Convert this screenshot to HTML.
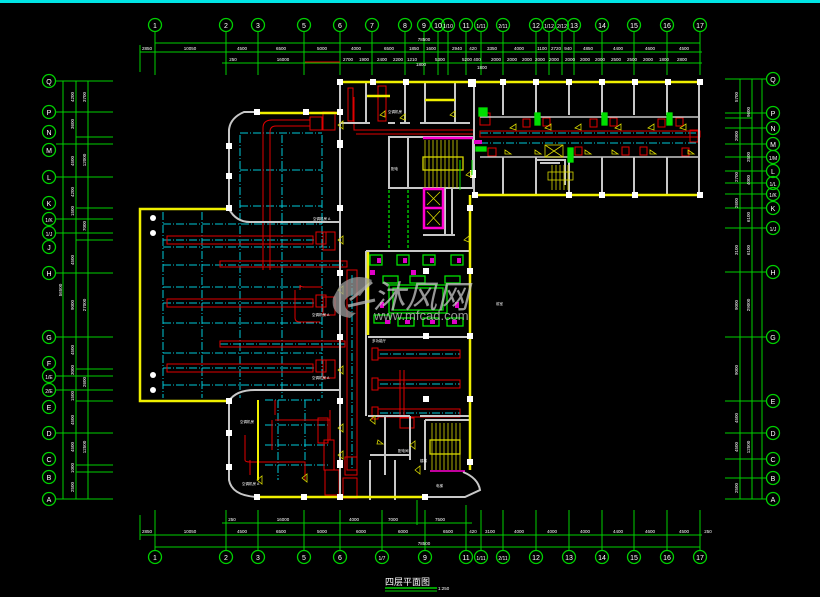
<!DOCTYPE html>
<html><head><meta charset="utf-8"><style>
html,body{margin:0;padding:0;background:#000;}
svg{display:block}
text{font-family:"Liberation Sans","Noto Sans CJK SC",sans-serif;}
</style></head><body>
<svg width="820" height="597" viewBox="0 0 820 597" xmlns="http://www.w3.org/2000/svg">
<rect width="820" height="597" fill="#000"/>
<rect width="820" height="3" fill="#00e5e5"/>

<!-- TOP AXES -->
<g stroke="#00d000" stroke-width="1" fill="none">
<line x1="155" y1="43" x2="700" y2="43"/>
<line x1="140" y1="52" x2="702" y2="52"/>
<line x1="222" y1="63" x2="702" y2="63"/>
<g id="topticks">
<line x1="155" y1="32" x2="155" y2="75"/><line x1="226" y1="32" x2="226" y2="75"/><line x1="258" y1="32" x2="258" y2="75"/><line x1="304" y1="32" x2="304" y2="75"/><line x1="340" y1="32" x2="340" y2="75"/><line x1="372" y1="32" x2="372" y2="75"/><line x1="405" y1="32" x2="405" y2="75"/><line x1="424" y1="32" x2="424" y2="75"/><line x1="438" y1="32" x2="438" y2="75"/><line x1="448" y1="32" x2="448" y2="75"/><line x1="466" y1="32" x2="466" y2="75"/><line x1="481" y1="32" x2="481" y2="75"/><line x1="503" y1="32" x2="503" y2="75"/><line x1="536" y1="32" x2="536" y2="75"/><line x1="549" y1="32" x2="549" y2="75"/><line x1="562" y1="32" x2="562" y2="75"/><line x1="574" y1="32" x2="574" y2="75"/><line x1="602" y1="32" x2="602" y2="75"/><line x1="634" y1="32" x2="634" y2="75"/><line x1="667" y1="32" x2="667" y2="75"/><line x1="700" y1="32" x2="700" y2="75"/><line x1="140" y1="45" x2="140" y2="72"/>
</g>
<g stroke-width="1.3">
<circle cx="155" cy="25" r="6.5"/><circle cx="226" cy="25" r="6.5"/><circle cx="258" cy="25" r="6.5"/><circle cx="304" cy="25" r="6.5"/><circle cx="340" cy="25" r="6.5"/><circle cx="372" cy="25" r="6.5"/><circle cx="405" cy="25" r="6.5"/><circle cx="424" cy="25" r="6.5"/><circle cx="438" cy="25" r="6.5"/><circle cx="448" cy="25" r="6.5"/><circle cx="466" cy="25" r="6.5"/><circle cx="481" cy="25" r="6.5"/><circle cx="503" cy="25" r="6.5"/><circle cx="536" cy="25" r="6.5"/><circle cx="549" cy="25" r="6.5"/><circle cx="562" cy="25" r="6.5"/><circle cx="574" cy="25" r="6.5"/><circle cx="602" cy="25" r="6.5"/><circle cx="634" cy="25" r="6.5"/><circle cx="667" cy="25" r="6.5"/><circle cx="700" cy="25" r="6.5"/>
</g>
<line x1="305" y1="62" x2="340" y2="62" stroke="#e00000"/>
<line x1="360" y1="82" x2="405" y2="82" stroke="#e00000"/>
</g>
<g fill="#fff" font-size="7" text-anchor="middle">
<text x="155" y="28">1</text><text x="226" y="28">2</text><text x="258" y="28">3</text><text x="304" y="28">5</text><text x="340" y="28">6</text><text x="372" y="28">7</text><text x="405" y="28">8</text><text x="424" y="28">9</text><text x="438" y="28">10</text><text x="448" y="28" font-size="5">1/10</text><text x="466" y="28">11</text><text x="481" y="28" font-size="5">1/11</text><text x="503" y="28" font-size="5">2/11</text><text x="536" y="28">12</text><text x="549" y="28" font-size="5">1/12</text><text x="562" y="28" font-size="5">2/12</text><text x="574" y="28">13</text><text x="602" y="28">14</text><text x="634" y="28">15</text><text x="667" y="28">16</text><text x="700" y="28">17</text>
</g>
<g fill="#fff" font-size="4.5" text-anchor="middle">
<text x="424" y="41">78500</text>
<text x="147" y="50">2850</text><text x="190" y="50">10050</text><text x="242" y="50">4500</text><text x="281" y="50">6500</text><text x="322" y="50">5000</text><text x="356" y="50">4000</text><text x="389" y="50">6500</text><text x="414" y="50">1850</text><text x="431" y="50">1600</text><text x="457" y="50">2940</text><text x="473" y="50">420</text><text x="492" y="50">3350</text><text x="519" y="50">4000</text><text x="542" y="50">1100</text><text x="556" y="50">2720</text><text x="568" y="50">940</text><text x="588" y="50">4850</text><text x="618" y="50">4400</text><text x="650" y="50">4600</text><text x="684" y="50">4500</text>
<text x="233" y="61">250</text><text x="283" y="61">16000</text><text x="348" y="61">2700</text><text x="364" y="61">1900</text><text x="382" y="61">2400</text><text x="398" y="61">2200</text><text x="412" y="61">1210</text><text x="440" y="61">5300</text><text x="467" y="61">5200</text><text x="477" y="61">400</text><text x="496" y="61">2000</text><text x="512" y="61">2000</text><text x="527" y="61">2000</text><text x="540" y="61">2000</text><text x="554" y="61">2000</text><text x="570" y="61">2000</text><text x="585" y="61">2000</text><text x="600" y="61">2000</text><text x="616" y="61">2500</text><text x="632" y="61">2500</text><text x="648" y="61">2000</text><text x="664" y="61">1800</text><text x="682" y="61">2800</text>
<text x="421" y="66">1800</text><text x="482" y="69">1800</text>
</g>

<!-- BOTTOM AXES -->
<g stroke="#00d000" stroke-width="1" fill="none">
<line x1="222" y1="523" x2="472" y2="523"/>
<line x1="140" y1="535" x2="702" y2="535"/>
<line x1="155" y1="547" x2="700" y2="547"/>
<line x1="155" y1="510" x2="155" y2="550"/><line x1="226" y1="510" x2="226" y2="550"/><line x1="258" y1="510" x2="258" y2="550"/><line x1="304" y1="510" x2="304" y2="550"/><line x1="340" y1="510" x2="340" y2="550"/><line x1="382" y1="510" x2="382" y2="550"/><line x1="425" y1="510" x2="425" y2="550"/><line x1="466" y1="505" x2="466" y2="550"/><line x1="481" y1="510" x2="481" y2="550"/><line x1="503" y1="510" x2="503" y2="550"/><line x1="536" y1="510" x2="536" y2="550"/><line x1="569" y1="510" x2="569" y2="550"/><line x1="602" y1="510" x2="602" y2="550"/><line x1="634" y1="510" x2="634" y2="550"/><line x1="667" y1="510" x2="667" y2="550"/><line x1="700" y1="510" x2="700" y2="550"/><line x1="140" y1="515" x2="140" y2="540"/><line x1="417" y1="500" x2="417" y2="525"/>
<g stroke-width="1.3">
<circle cx="155" cy="557" r="6.5"/><circle cx="226" cy="557" r="6.5"/><circle cx="258" cy="557" r="6.5"/><circle cx="304" cy="557" r="6.5"/><circle cx="340" cy="557" r="6.5"/><circle cx="382" cy="557" r="6.5"/><circle cx="425" cy="557" r="6.5"/><circle cx="466" cy="557" r="6.5"/><circle cx="481" cy="557" r="6.5"/><circle cx="503" cy="557" r="6.5"/><circle cx="536" cy="557" r="6.5"/><circle cx="569" cy="557" r="6.5"/><circle cx="602" cy="557" r="6.5"/><circle cx="634" cy="557" r="6.5"/><circle cx="667" cy="557" r="6.5"/><circle cx="700" cy="557" r="6.5"/>
</g>
<line x1="385" y1="588" x2="437" y2="588" stroke-width="1.5"/>
<line x1="385" y1="591" x2="437" y2="591"/>
</g>
<g fill="#fff" font-size="7" text-anchor="middle">
<text x="155" y="560">1</text><text x="226" y="560">2</text><text x="258" y="560">3</text><text x="304" y="560">5</text><text x="340" y="560">6</text><text x="382" y="560" font-size="5">1/7</text><text x="425" y="560">9</text><text x="466" y="560">11</text><text x="481" y="560" font-size="5">1/11</text><text x="503" y="560" font-size="5">2/11</text><text x="536" y="560">12</text><text x="569" y="560">13</text><text x="602" y="560">14</text><text x="634" y="560">15</text><text x="667" y="560">16</text><text x="700" y="560">17</text>
</g>
<g fill="#fff" font-size="4.5" text-anchor="middle">
<text x="232" y="521">250</text><text x="283" y="521">16000</text><text x="354" y="521">4000</text><text x="393" y="521">7000</text><text x="440" y="521">7500</text>
<text x="147" y="533">2850</text><text x="190" y="533">10050</text><text x="242" y="533">4500</text><text x="281" y="533">6500</text><text x="322" y="533">5000</text><text x="361" y="533">6000</text><text x="403" y="533">6000</text><text x="448" y="533">6500</text><text x="473" y="533">420</text><text x="490" y="533">3100</text><text x="519" y="533">4000</text><text x="552" y="533">4000</text><text x="585" y="533">4000</text><text x="618" y="533">4400</text><text x="650" y="533">4600</text><text x="684" y="533">4500</text><text x="708" y="533">250</text>
<text x="424" y="545">78500</text>
</g>
<text x="385" y="585" fill="#fff" font-size="9" font-family="Liberation Sans, Noto Sans CJK SC, sans-serif">四层平面图</text>
<text x="438" y="590" fill="#fff" font-size="4.5">1:250</text>

<!-- LEFT AXIS -->
<g stroke="#00d000" stroke-width="1" fill="none">
<line x1="63" y1="81" x2="63" y2="499"/><line x1="76" y1="81" x2="76" y2="499"/><line x1="88" y1="81" x2="88" y2="499"/>
<g id="lh">
<line x1="56" y1="81" x2="113" y2="81"/><line x1="56" y1="112" x2="113" y2="112"/><line x1="76" y1="137" x2="113" y2="137"/><line x1="56" y1="144" x2="113" y2="144"/><line x1="56" y1="177" x2="113" y2="177"/><line x1="76" y1="208" x2="113" y2="208"/><line x1="56" y1="219" x2="113" y2="219"/><line x1="56" y1="233" x2="113" y2="233"/><line x1="76" y1="240" x2="113" y2="240"/><line x1="56" y1="273" x2="113" y2="273"/><line x1="56" y1="337" x2="113" y2="337"/><line x1="76" y1="369" x2="113" y2="369"/><line x1="56" y1="376" x2="113" y2="376"/><line x1="56" y1="390" x2="113" y2="390"/><line x1="76" y1="401" x2="113" y2="401"/><line x1="56" y1="433" x2="113" y2="433"/><line x1="76" y1="465" x2="113" y2="465"/><line x1="76" y1="472" x2="113" y2="472"/><line x1="56" y1="499" x2="113" y2="499"/>
</g>
<g stroke-width="1.3">
<circle cx="49" cy="81" r="6.5"/><circle cx="49" cy="112" r="6.5"/><circle cx="49" cy="132" r="6.5"/><circle cx="49" cy="150" r="6.5"/><circle cx="49" cy="177" r="6.5"/><circle cx="49" cy="203" r="6.5"/><circle cx="49" cy="219" r="6.5"/><circle cx="49" cy="233" r="6.5"/><circle cx="49" cy="247" r="6.5"/><circle cx="49" cy="273" r="6.5"/><circle cx="49" cy="337" r="6.5"/><circle cx="49" cy="363" r="6.5"/><circle cx="49" cy="376" r="6.5"/><circle cx="49" cy="390" r="6.5"/><circle cx="49" cy="407" r="6.5"/><circle cx="49" cy="433" r="6.5"/><circle cx="49" cy="459" r="6.5"/><circle cx="49" cy="477" r="6.5"/><circle cx="49" cy="499" r="6.5"/>
</g>
</g>
<g fill="#fff" font-size="7" text-anchor="middle">
<text x="49" y="84">Q</text><text x="49" y="115">P</text><text x="49" y="135">N</text><text x="49" y="153">M</text><text x="49" y="180">L</text><text x="49" y="206">K</text><text x="49" y="222" font-size="5">1/K</text><text x="49" y="236" font-size="5">1/J</text><text x="49" y="250">J</text><text x="49" y="276">H</text><text x="49" y="340">G</text><text x="49" y="366">F</text><text x="49" y="379" font-size="5">1/E</text><text x="49" y="393" font-size="5">2/E</text><text x="49" y="410">E</text><text x="49" y="436">D</text><text x="49" y="462">C</text><text x="49" y="480">B</text><text x="49" y="502">A</text>
</g>
<g fill="#fff" font-size="4.5" text-anchor="middle">
<text transform="translate(74,97) rotate(-90)">4200</text><text transform="translate(86,97) rotate(-90)">3700</text><text transform="translate(74,124) rotate(-90)">3600</text><text transform="translate(74,161) rotate(-90)">4500</text><text transform="translate(86,160) rotate(-90)">12000</text><text transform="translate(74,192) rotate(-90)">4200</text><text transform="translate(74,211) rotate(-90)">1500</text><text transform="translate(86,226) rotate(-90)">7000</text><text transform="translate(62,290) rotate(-90)">56500</text><text transform="translate(74,260) rotate(-90)">4500</text><text transform="translate(74,305) rotate(-90)">9000</text><text transform="translate(86,305) rotate(-90)">27000</text><text transform="translate(74,350) rotate(-90)">4500</text><text transform="translate(74,370) rotate(-90)">3000</text><text transform="translate(86,382) rotate(-90)">2600</text><text transform="translate(74,396) rotate(-90)">1500</text><text transform="translate(74,420) rotate(-90)">4500</text><text transform="translate(74,447) rotate(-90)">4500</text><text transform="translate(86,447) rotate(-90)">12500</text><text transform="translate(74,468) rotate(-90)">1000</text><text transform="translate(74,487) rotate(-90)">2500</text>
</g>

<!-- RIGHT AXIS -->
<g stroke="#00d000" stroke-width="1" fill="none">
<line x1="740" y1="79" x2="740" y2="499"/><line x1="752" y1="79" x2="752" y2="499"/><line x1="762" y1="79" x2="762" y2="499"/>
<line x1="725" y1="79" x2="766" y2="79"/><line x1="725" y1="113" x2="766" y2="113"/><line x1="725" y1="118" x2="752" y2="118"/><line x1="725" y1="128" x2="766" y2="128"/><line x1="725" y1="144" x2="766" y2="144"/><line x1="725" y1="157" x2="766" y2="157"/><line x1="725" y1="171" x2="766" y2="171"/><line x1="725" y1="183" x2="766" y2="183"/><line x1="725" y1="194" x2="766" y2="194"/><line x1="725" y1="208" x2="766" y2="208"/><line x1="725" y1="228" x2="766" y2="228"/><line x1="725" y1="272" x2="766" y2="272"/><line x1="725" y1="337" x2="766" y2="337"/><line x1="725" y1="401" x2="766" y2="401"/><line x1="725" y1="433" x2="766" y2="433"/><line x1="725" y1="459" x2="766" y2="459"/><line x1="725" y1="478" x2="766" y2="478"/><line x1="725" y1="499" x2="766" y2="499"/>
<g stroke-width="1.3">
<circle cx="773" cy="79" r="6.5"/><circle cx="773" cy="113" r="6.5"/><circle cx="773" cy="128" r="6.5"/><circle cx="773" cy="144" r="6.5"/><circle cx="773" cy="157" r="6.5"/><circle cx="773" cy="171" r="6.5"/><circle cx="773" cy="183" r="6.5"/><circle cx="773" cy="194" r="6.5"/><circle cx="773" cy="208" r="6.5"/><circle cx="773" cy="228" r="6.5"/><circle cx="773" cy="272" r="6.5"/><circle cx="773" cy="337" r="6.5"/><circle cx="773" cy="401" r="6.5"/><circle cx="773" cy="433" r="6.5"/><circle cx="773" cy="459" r="6.5"/><circle cx="773" cy="478" r="6.5"/><circle cx="773" cy="499" r="6.5"/>
</g>
</g>
<g fill="#fff" font-size="7" text-anchor="middle">
<text x="773" y="82">Q</text><text x="773" y="116">P</text><text x="773" y="131">N</text><text x="773" y="147">M</text><text x="773" y="160" font-size="5">1/M</text><text x="773" y="174">L</text><text x="773" y="186" font-size="5">1/L</text><text x="773" y="197" font-size="5">1/K</text><text x="773" y="211">K</text><text x="773" y="231" font-size="5">1/J</text><text x="773" y="275">H</text><text x="773" y="340">G</text><text x="773" y="404">E</text><text x="773" y="436">D</text><text x="773" y="462">C</text><text x="773" y="481">B</text><text x="773" y="502">A</text>
</g>
<g fill="#fff" font-size="4.5" text-anchor="middle">
<text transform="translate(738,97) rotate(-90)">5700</text><text transform="translate(750,112) rotate(-90)">9600</text><text transform="translate(738,136) rotate(-90)">2000</text><text transform="translate(750,157) rotate(-90)">2500</text><text transform="translate(738,177) rotate(-90)">2700</text><text transform="translate(750,180) rotate(-90)">4000</text><text transform="translate(738,203) rotate(-90)">2600</text><text transform="translate(750,217) rotate(-90)">6100</text><text transform="translate(738,250) rotate(-90)">3100</text><text transform="translate(750,250) rotate(-90)">6100</text><text transform="translate(738,305) rotate(-90)">9000</text><text transform="translate(750,305) rotate(-90)">29000</text><text transform="translate(738,370) rotate(-90)">9000</text><text transform="translate(738,418) rotate(-90)">4500</text><text transform="translate(738,447) rotate(-90)">4500</text><text transform="translate(750,447) rotate(-90)">12500</text><text transform="translate(738,488) rotate(-90)">2500</text>
</g>

<!-- BUILDING: CYAN DASH-DOT GRID -->
<g stroke="#00c8d8" stroke-width="1" stroke-dasharray="8 2 1 2" fill="none">
<line x1="240" y1="133" x2="322" y2="133"/><line x1="240" y1="170" x2="322" y2="170"/><line x1="240" y1="206" x2="322" y2="206"/>
<line x1="163" y1="224" x2="322" y2="224"/><line x1="163" y1="247" x2="330" y2="247"/><line x1="163" y1="287" x2="322" y2="287"/><line x1="163" y1="323" x2="322" y2="323"/><line x1="163" y1="353" x2="322" y2="353"/><line x1="163" y1="385" x2="322" y2="385"/><line x1="163" y1="265" x2="345" y2="265"/><line x1="163" y1="303" x2="315" y2="303"/><line x1="220" y1="344" x2="345" y2="344"/><line x1="163" y1="368" x2="315" y2="368"/><line x1="163" y1="240" x2="315" y2="240"/>
<line x1="163" y1="212" x2="163" y2="398"/><line x1="202" y1="212" x2="202" y2="398"/><line x1="240" y1="135" x2="240" y2="398"/><line x1="282" y1="135" x2="282" y2="398"/><line x1="322" y1="135" x2="322" y2="398"/>
<line x1="265" y1="400" x2="320" y2="400"/><line x1="278" y1="400" x2="278" y2="480"/><line x1="305" y1="400" x2="305" y2="480"/><line x1="265" y1="425" x2="330" y2="425"/><line x1="265" y1="445" x2="330" y2="445"/><line x1="265" y1="465" x2="330" y2="465"/>
<line x1="352" y1="275" x2="352" y2="470"/>
<line x1="380" y1="354" x2="460" y2="354"/><line x1="380" y1="384" x2="460" y2="384"/><line x1="380" y1="413" x2="460" y2="413"/>
<line x1="480" y1="133" x2="700" y2="133"/><line x1="480" y1="143" x2="700" y2="143"/>
</g>

<!-- RED DUCTS -->
<g stroke="#e00000" stroke-width="1" fill="none">
<rect x="167" y="236" width="146" height="8"/><rect x="220" y="261" width="127" height="6"/><rect x="167" y="299" width="146" height="8"/><rect x="220" y="341" width="125" height="6"/><rect x="167" y="364" width="146" height="8"/>
<path d="M263 270 V128 Q263 120 272 120 H310 M270 270 V132 Q270 126 276 126 H310"/>
<rect x="310" y="117" width="12" height="13"/><rect x="316" y="232" width="10" height="12"/><rect x="316" y="295" width="10" height="12"/><rect x="316" y="360" width="10" height="12"/>
<rect x="323" y="112" width="12" height="18"/><rect x="323" y="232" width="12" height="18"/><rect x="323" y="297" width="12" height="18"/><rect x="323" y="360" width="12" height="18"/>
<path d="M300 290 V285 Q300 287 305 287 H322 M295 290 V318 Q295 322 300 322 H320"/>
<rect x="347" y="270" width="10" height="200"/><rect x="345" y="457" width="12" height="18"/>
<path d="M275 400 V415 M275 420 H330 M272 420 V450 M330 410 V440"/>
<rect x="318" y="418" width="10" height="25"/><rect x="324" y="440" width="10" height="30"/>
<path d="M245 435 V460 Q245 462 250 462 H305 V480 M250 460 V475"/>
<rect x="325" y="470" width="14" height="25"/><rect x="343" y="478" width="14" height="20"/>
<rect x="378" y="350" width="82" height="8"/><rect x="378" y="380" width="82" height="8"/><rect x="378" y="409" width="82" height="8"/>
<rect x="372" y="348" width="6" height="12"/><rect x="372" y="378" width="6" height="12"/><rect x="372" y="407" width="6" height="12"/>
<path d="M400 370 V415 M404 370 V415"/><rect x="400" y="418" width="14" height="10"/>
<rect x="348" y="88" width="5" height="33"/><rect x="378" y="86" width="8" height="35"/>
<path d="M354 97 V130 H475 M356 134 H475"/>
<rect x="480" y="131" width="220" height="6"/>
<rect x="480" y="113" width="10" height="12"/><rect x="488" y="148" width="8" height="8"/>
<rect x="523" y="119" width="7" height="8"/><rect x="543" y="118" width="7" height="8"/><rect x="590" y="119" width="7" height="8"/><rect x="610" y="118" width="7" height="8"/><rect x="658" y="119" width="7" height="8"/><rect x="676" y="118" width="7" height="8"/><rect x="575" y="147" width="7" height="8"/><rect x="622" y="147" width="7" height="8"/><rect x="640" y="147" width="7" height="8"/><rect x="690" y="130" width="8" height="12"/><rect x="682" y="148" width="7" height="8"/>
</g>

<!-- WALLS GREY -->
<g stroke="#c8c8c8" stroke-width="2" fill="none">
<path d="M258 112 H244 Q230 118 229 130 V209"/>
<path d="M229 209 Q236 222 250 222 H340"/>
<path d="M229 401 Q236 390 255 390 H340"/>
<path d="M229 401 V480 Q232 496 258 497"/>
<path d="M340 83 V500"/>
<path d="M340 123 H370 M388 123 H395 M400 123 H410 M420 123 H470"/>
<path d="M366 83 V123 M405 83 V123 M425 83 V123 M455 83 V123"/>
<rect x="389" y="137" width="84" height="51"/>
<path d="M408 137 V188"/>
<path d="M445 188 V235 M452 188 V235 M423 235 H455"/>
<path d="M366 251 H470"/>
<path d="M368 337 H470 M368 416 H410 M420 416 H470"/>
<path d="M366 251 V416"/>
<path d="M385 416 V475 M410 416 V460 M370 455 H410 M370 460 V500 M395 460 V500"/>
<path d="M425 420 H470 M425 420 V470"/>
<path d="M463 472 Q478 478 480 490 L465 497 H425"/>
<path d="M474 83 V195 M474 195 H700"/>
<path d="M503 83 V115 M536 83 V115 M569 83 V115 M602 83 V115 M634 83 V115 M667 83 V115 M699 83 V195"/>
<path d="M503 157 V195 M536 157 V195 M569 157 V195 M602 157 V195 M634 157 V195 M667 157 V195"/>
<path d="M480 117 H700 M480 157 H700" stroke-width="1.5"/>
<path d="M535 160 H565 V185 M540 163 H560"/>
</g>

<!-- WALLS YELLOW -->
<g stroke="#f0f000" stroke-width="2.5" fill="none">
<path d="M227 209 H140 V401 H227"/>
<path d="M258 113 H340"/>
<path d="M340 82 H700 M474 195 H700"/>
<path d="M470 195 V470"/>
<path d="M258 497 H425"/>
<path d="M368 252 V335"/>
<path d="M258 400 V480" stroke-width="2"/>
<path d="M367 96 H390 M425 100 H455"/>
</g>

<!-- COLUMNS -->
<g fill="#fff">
<rect x="254" y="109" width="6" height="6"/><rect x="303" y="109" width="6" height="6"/><rect x="337" y="109" width="6" height="6"/>
<rect x="226" y="143" width="6" height="6"/><rect x="226" y="173" width="6" height="6"/><rect x="226" y="205" width="6" height="6"/>
<rect x="337" y="140" width="6" height="8"/><rect x="337" y="205" width="6" height="6"/><rect x="337" y="270" width="6" height="6"/><rect x="337" y="334" width="6" height="6"/><rect x="337" y="398" width="6" height="6"/><rect x="337" y="460" width="6" height="8"/>
<rect x="226" y="398" width="6" height="6"/><rect x="226" y="430" width="6" height="6"/><rect x="226" y="464" width="6" height="6"/>
<rect x="254" y="494" width="6" height="6"/><rect x="301" y="494" width="6" height="6"/><rect x="337" y="494" width="6" height="6"/><rect x="422" y="494" width="6" height="6"/>
<rect x="337" y="79" width="6" height="6"/><rect x="370" y="79" width="6" height="6"/><rect x="403" y="79" width="6" height="6"/><rect x="468" y="79" width="8" height="8"/><rect x="500" y="79" width="6" height="6"/><rect x="533" y="79" width="6" height="6"/><rect x="566" y="79" width="6" height="6"/><rect x="599" y="79" width="6" height="6"/><rect x="632" y="79" width="6" height="6"/><rect x="665" y="79" width="6" height="6"/><rect x="697" y="79" width="6" height="6"/>
<rect x="472" y="192" width="6" height="6"/><rect x="566" y="192" width="6" height="6"/><rect x="599" y="192" width="6" height="6"/><rect x="632" y="192" width="6" height="6"/><rect x="697" y="192" width="6" height="6"/>
<rect x="470" y="170" width="6" height="8"/><rect x="467" y="205" width="6" height="6"/><rect x="467" y="268" width="6" height="6"/><rect x="467" y="333" width="6" height="6"/><rect x="467" y="396" width="6" height="6"/><rect x="467" y="459" width="6" height="6"/>
<rect x="423" y="333" width="6" height="6"/><rect x="423" y="396" width="6" height="6"/><rect x="423" y="268" width="6" height="6"/>
<circle cx="153" cy="218" r="3"/><circle cx="153" cy="233" r="3"/><circle cx="153" cy="375" r="3"/><circle cx="153" cy="390" r="3"/>
</g>

<!-- STAIRS / ELEVATORS -->
<g stroke="#d8d800" stroke-width="0.8" fill="none">
<path d="M425 140 V188 M429 140 V188 M433 140 V188 M437 140 V188 M441 140 V188 M445 140 V188 M449 140 V188 M453 140 V188 M457 140 V188"/>
<rect x="423" y="157" width="40" height="13" stroke-width="1.3"/>
<path d="M432 423 V470 M436 423 V470 M440 423 V470 M444 423 V470 M448 423 V470 M452 423 V470 M456 423 V470 M460 423 V470"/>
<rect x="430" y="440" width="30" height="14" stroke-width="1.3"/>
<path d="M560 165 V190 M564 165 V190 M568 165 V190 M556 165 V190 M552 165 V190"/>
<rect x="548" y="172" width="25" height="8"/>
<rect x="545" y="145" width="18" height="12"/><path d="M545 145 L563 157 M563 145 L545 157"/>
</g>
<g stroke="#ff00d0" stroke-width="2.5" fill="none">
<rect x="424" y="189" width="19" height="39"/><line x1="424" y1="208" x2="443" y2="208"/>
<line x1="423" y1="138" x2="473" y2="138"/>
<line x1="430" y1="471" x2="465" y2="471" stroke-width="1.5"/>
</g>
<g stroke="#d8d800" stroke-width="0.8"><path d="M427 192 L440 205 M440 192 L427 205 M427 211 L440 225 M440 211 L427 225"/></g>

<!-- GREEN ATRIUM -->
<g stroke="#00e000" stroke-width="1.3" fill="none">
<rect x="370" y="255" width="12" height="10"/><rect x="397" y="255" width="12" height="10"/><rect x="423" y="255" width="12" height="10"/><rect x="451" y="255" width="12" height="10"/>
<rect x="383" y="276" width="15" height="7"/><rect x="445" y="276" width="15" height="7"/><rect x="410" y="276" width="15" height="7"/>
<rect x="393" y="288" width="50" height="22"/><rect x="389" y="285" width="58" height="28"/>
<rect x="374" y="315" width="16" height="8"/><rect x="398" y="318" width="16" height="8"/><rect x="423" y="318" width="16" height="8"/><rect x="447" y="318" width="16" height="8"/>
<line x1="389" y1="190" x2="389" y2="250" stroke-dasharray="3 2"/><line x1="408" y1="190" x2="408" y2="250" stroke-dasharray="3 2"/>
<path d="M460 160 V190 M472 160 V175" stroke-width="1"/>
<rect x="479" y="108" width="8" height="8" fill="#00e000"/><rect x="535" y="113" width="5" height="12" fill="#00e000"/><rect x="602" y="113" width="5" height="12" fill="#00e000"/><rect x="667" y="113" width="5" height="12" fill="#00e000"/><rect x="568" y="148" width="5" height="14" fill="#00e000"/><rect x="476" y="147" width="10" height="4" fill="#00e000"/>
</g>
<g fill="#e000c8"><rect x="377" y="258" width="4" height="5"/><rect x="403" y="258" width="4" height="5"/><rect x="430" y="258" width="4" height="5"/><rect x="457" y="258" width="4" height="5"/><rect x="370" y="270" width="5" height="5"/><rect x="411" y="270" width="5" height="5"/><rect x="380" y="302" width="4" height="6"/><rect x="455" y="302" width="4" height="6"/><rect x="385" y="320" width="5" height="4"/><rect x="405" y="320" width="5" height="4"/><rect x="430" y="320" width="5" height="4"/><rect x="452" y="320" width="5" height="4"/><rect x="474" y="140" width="8" height="4"/></g>

<!-- small door swings -->
<g stroke="#d8d800" stroke-width="0.8" fill="none">
<path d="M338 125 l5 -4 v8z M338 240 l5 -4 v8z M338 290 l5 -4 v8z M338 370 l5 -4 v8z M338 428 l5 -4 v8z M338 455 l5 -4 v8z M370 420 l5 -4 v8z M378 440 l5 4 h-6z M410 445 l5 -4 v8z M415 470 l5 -4 v8z M302 478 l5 -4 v8z M257 480 l5 -4 v8z M380 115 l5 -4 v6z M400 118 l5 -4 v6z M450 115 l5 -4 v6z M466 175 l5 -4 v6z M464 240 l5 -4 v6z"/>
<path d="M510 128 l6 -4 v6z M545 128 l6 -4 v6z M575 128 l6 -4 v6z M615 128 l6 -4 v6z M648 128 l6 -4 v6z M680 128 l6 -4 v6z M505 150 l6 4 h-6z M535 150 l6 4 h-6z M585 150 l6 4 h-6z M612 150 l6 4 h-6z M650 150 l6 4 h-6z M688 150 l6 4 h-6z"/>
</g>

<!-- tiny labels -->
<g fill="#fff" font-size="3.5">
<text x="313" y="220">空调机房 A</text><text x="312" y="316">空调机房 A</text><text x="312" y="379">空调机房 A</text><text x="240" y="423">空调机房</text><text x="242" y="485">空调机房 A</text><text x="388" y="113">空调机房</text><text x="391" y="170">配电</text><text x="372" y="342">多功能厅</text><text x="420" y="462">楼梯</text><text x="436" y="487">电梯</text><text x="496" y="305">前室</text><text x="398" y="452">配电间</text>
</g>

<!-- WATERMARK -->
<g opacity="0.75">
<path d="M340 285 Q355 272 372 280 L360 296 Q352 292 345 300 Q343 312 356 313 L350 318 Q330 315 333 298 Z" fill="#9a9a9a"/>
<path d="M350 300 L372 282 M348 306 L375 300" stroke="#bbb" stroke-width="3"/>
<text x="373" y="308" font-size="32" font-style="italic" fill="#c8c8c8" font-family="Liberation Sans, Noto Sans CJK SC, sans-serif">沐风网</text>
<text x="374" y="320" font-size="13" fill="#c8c8c8" font-family="Liberation Sans, sans-serif">www.mfcad.com</text>
</g>
</svg>
</body></html>
